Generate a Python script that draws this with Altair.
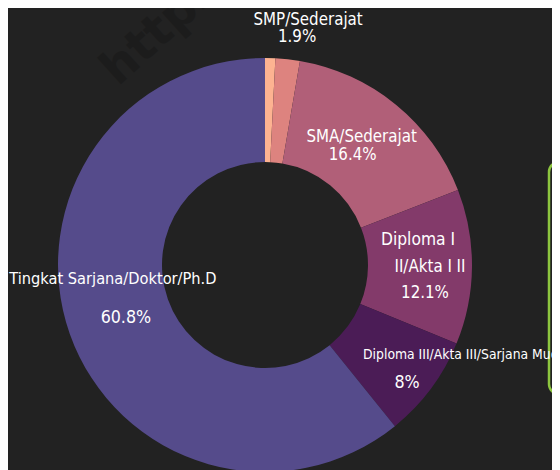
import altair as alt
import pandas as pd

# ---- data ----
categories = [
    "SD/Sederajat",
    "SMP/Sederajat",
    "SMA/Sederajat",
    "Diploma I II/Akta I II",
    "Diploma III/Akta III/Sarjana Muda",
    "Tingkat Sarjana/Doktor/Ph.D",
]
display_names = [
    "",
    "SMP/Sederajat",
    "SMA/Sederajat",
    "Diploma I\nII/Akta I II",
    "Diploma III/Akta III/Sarjana Muda",
    "Tingkat Sarjana/Doktor/Ph.D",
]
values = [0.8, 1.9, 16.4, 12.1, 8.0, 60.8]
colors = ["#FDB391", "#DD837F", "#B15F78", "#833A6A", "#4B1C56", "#554B8B"]

df = pd.DataFrame({
    "cat": categories,
    "disp": display_names,
    "value": values,
    "idx": list(range(len(categories))),
})

FONT = "DejaVu Sans Condensed, Liberation Sans Narrow, sans-serif"
CX, CY = 257, 257
BG = "#222222"

base = alt.Chart(df).encode(
    theta=alt.Theta("value:Q", stack=True),
    order=alt.Order("idx:Q"),
    x=alt.value(CX),
    y=alt.value(CY),
)

arcs = base.mark_arc(innerRadius=103, outerRadius=207).encode(
    color=alt.Color("cat:N", scale=alt.Scale(domain=categories, range=colors), legend=None)
)


def label(cat, kind, dx, dy, size, align="center", radius=156):
    if kind == "name":
        expr = f"datum.cat === '{cat}' ? datum.disp : ''"
    elif kind.startswith("line"):
        i = int(kind[4:])
        expr = f"datum.cat === '{cat}' ? split(datum.disp, '\\n')[{i}] : ''"
    else:
        expr = f"datum.cat === '{cat}' ? datum.value + '%' : ''"
    return base.transform_calculate(t=expr).mark_text(
        radius=radius, dx=dx, dy=dy, fontSize=size, font=FONT, color="#ffffff",
        align=align, baseline="middle",
    ).encode(text="t:N")


labels = [
    label("SMP/Sederajat", "name", 26, -90, 16.75),
    label("SMP/Sederajat", "pct", 15, -73, 16.75),
    label("SMA/Sederajat", "name", -2, -7, 16.75),
    label("SMA/Sederajat", "pct", -11, 11, 16.75),
    label("Diploma I II/Akta I II", "line0", -3, -26, 17.25),
    label("Diploma I II/Akta I II", "line1", 9, 1, 16.75),
    label("Diploma I II/Akta I II", "pct", 4, 27, 16.75),
    label("Diploma III/Akta III/Sarjana Muda", "name", -27, -3, 13.8, align="left"),
    label("Diploma III/Akta III/Sarjana Muda", "pct", 17, 25, 17.7),
    label("Tingkat Sarjana/Doktor/Ph.D", "name", -5, -38, 16.25),
    label("Tingkat Sarjana/Doktor/Ph.D", "pct", 8, 1, 17.7),
]

watermark = alt.Chart(pd.DataFrame({"w": ["https://"]})).mark_text(
    fontSize=47, fontWeight="bold", font="DejaVu Sans", color="#1c1c1c",
    angle=318, align="left", baseline="alphabetic",
).encode(text="w:N", x=alt.value(110), y=alt.value(79))

box = alt.Chart(pd.DataFrame({"b": [0]})).mark_rect(
    cornerRadius=10, fillOpacity=0, stroke="#8DC63F", strokeWidth=2.5,
).encode(x=alt.value(541), x2=alt.value(600), y=alt.value(154), y2=alt.value(386))

chart = alt.layer(watermark, box, arcs, *labels).properties(
    width=544, height=462, background=BG, padding=0, autosize="none",
).configure_view(strokeWidth=0)

chart.save("out.html", embed_options={"renderer": "svg", "actions": False})
